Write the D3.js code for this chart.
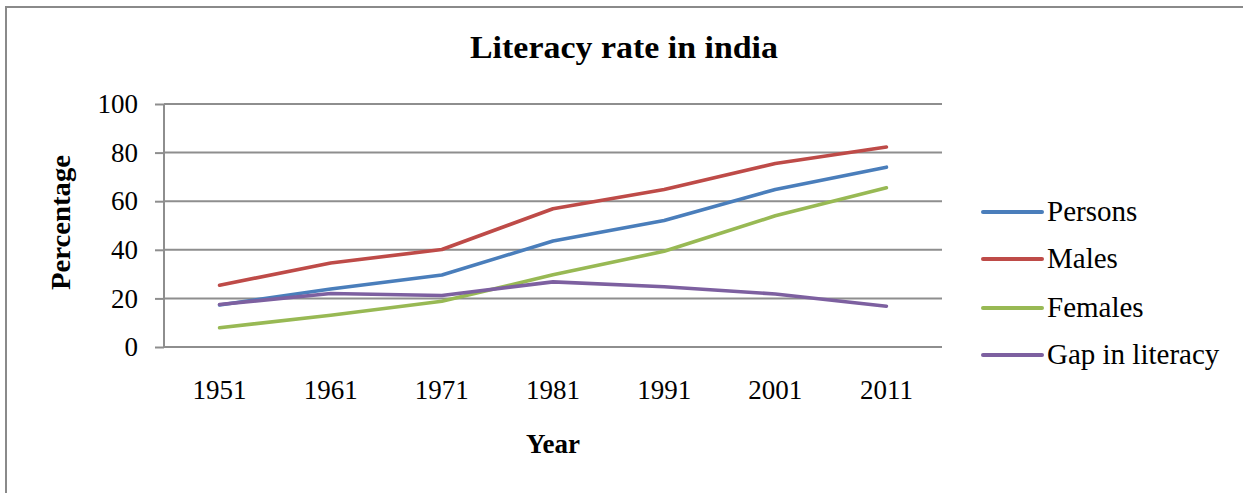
<!DOCTYPE html>
<html>
<head>
<meta charset="utf-8">
<script src="https://cdn.jsdelivr.net/npm/d3@7"></script>
<style>
  html, body { margin: 0; padding: 0; background: #fff; overflow: hidden; }
  svg { display: block; }
</style>
</head>
<body>
<div id="chart"></div>
<script>
// Literacy rate in india — Excel-style line chart, four series over census years.

const years = ['1951', '1961', '1971', '1981', '1991', '2001', '2011'];
const persons = [17.3, 23.9, 29.6, 43.6, 52.1, 64.8, 74.0];
const males   = [25.4, 34.6, 40.1, 56.9, 64.8, 75.5, 82.3];
const females = [7.9, 13.1, 18.8, 29.7, 39.4, 54.0, 65.5];
const gap     = [17.5, 22.0, 21.2, 26.8, 24.8, 21.8, 16.8];
const yTicks  = [0, 20, 40, 60, 80, 100];

const seriesNames = ['Persons', 'Males', 'Females', 'Gap in literacy'];
const seriesValues = [persons, males, females, gap];

const COLORS = {
  Persons: '#4a7ebb',
  Males: '#be4b48',
  Females: '#98b954',
  'Gap in literacy': '#7d60a0',
  grid: '#8e8e8e',
  border: '#8a8a8a',
  ink: '#000'
};
const FONT = '"Liberation Serif", "Times New Roman", serif';

const W = 1243, H = 493;
const plot = { left: 164, right: 942, top: 104, bottom: 347 };

const svg = d3.select('#chart').append('svg')
  .attr('width', W).attr('height', H);

// outer chart border (runs off the right/bottom edge like the screenshot)
svg.append('rect')
  .attr('x', 6).attr('y', 7)
  .attr('width', 1400).attr('height', 700)
  .attr('fill', 'none')
  .attr('stroke', COLORS.border)
  .attr('stroke-width', 2);

const x = d3.scalePoint().domain(years).range([plot.left, plot.right]).padding(0.5);
const y = d3.scaleLinear().domain([0, 100]).range([plot.bottom, plot.top]);

// left ticks
const yAxis = svg.append('g')
  .attr('transform', `translate(${plot.left},0)`)
  .call(d3.axisLeft(y).tickValues(yTicks).tickSize(9).tickFormat(''));
yAxis.select('.domain').remove();
yAxis.selectAll('.tick line').attr('stroke', COLORS.grid).attr('stroke-width', 2);

// gridlines
svg.append('g')
  .selectAll('line')
  .data(yTicks)
  .join('line')
  .attr('x1', plot.left).attr('x2', plot.right)
  .attr('y1', d => y(d)).attr('y2', d => y(d))
  .attr('stroke', COLORS.grid)
  .attr('stroke-width', 2);

// vertical axis line
svg.append('line')
  .attr('x1', plot.left).attr('x2', plot.left)
  .attr('y1', plot.top).attr('y2', plot.bottom)
  .attr('stroke', COLORS.grid)
  .attr('stroke-width', 2);

// y tick labels
svg.append('g')
  .selectAll('text')
  .data(yTicks)
  .join('text')
  .attr('x', 138)
  .attr('y', d => y(d))
  .attr('dy', '0.34em')
  .attr('text-anchor', 'end')
  .attr('font-family', FONT)
  .attr('font-size', 27)
  .attr('fill', COLORS.ink)
  .text(d => d);

// x tick labels
svg.append('g')
  .selectAll('text')
  .data(years)
  .join('text')
  .attr('x', d => x(d))
  .attr('y', 399)
  .attr('text-anchor', 'middle')
  .attr('font-family', FONT)
  .attr('font-size', 27)
  .attr('fill', COLORS.ink)
  .text(d => d);

// series lines
const line = d3.line()
  .x((d, i) => x(years[i]))
  .y(d => y(d));

svg.append('g')
  .selectAll('path')
  .data(seriesValues)
  .join('path')
  .attr('d', d => line(d))
  .attr('fill', 'none')
  .attr('stroke', (d, i) => COLORS[seriesNames[i]])
  .attr('stroke-width', 3.6)
  .attr('stroke-linecap', 'round')
  .attr('stroke-linejoin', 'round');

// title
svg.append('text')
  .attr('x', 470).attr('y', 58)
  .attr('font-family', FONT)
  .attr('font-weight', 'bold')
  .attr('font-size', 31)
  .attr('textLength', 308)
  .attr('lengthAdjust', 'spacingAndGlyphs')
  .attr('fill', COLORS.ink)
  .text('Literacy rate in india');

// axis titles
svg.append('text')
  .attr('x', x('1981')).attr('y', 453)
  .attr('text-anchor', 'middle')
  .attr('font-family', FONT)
  .attr('font-weight', 'bold')
  .attr('font-size', 27)
  .attr('fill', COLORS.ink)
  .text('Year');

svg.append('text')
  .attr('transform', 'translate(70,290) rotate(-90)')
  .attr('font-family', FONT)
  .attr('font-weight', 'bold')
  .attr('font-size', 28)
  .attr('textLength', 135)
  .attr('lengthAdjust', 'spacingAndGlyphs')
  .attr('fill', COLORS.ink)
  .text('Percentage');

// legend
const legendY = [212, 259, 308, 355];
const legend = svg.append('g')
  .selectAll('g')
  .data(seriesNames)
  .join('g')
  .attr('transform', (d, i) => `translate(983,${legendY[i]})`);

legend.append('line')
  .attr('x1', 0).attr('x2', 59)
  .attr('stroke', d => COLORS[d])
  .attr('stroke-width', 4)
  .attr('stroke-linecap', 'round');

legend.append('text')
  .attr('x', 64)
  .attr('dy', '0.32em')
  .attr('font-family', FONT)
  .attr('font-size', 29)
  .attr('fill', COLORS.ink)
  .text(d => d);
</script>
</body>
</html>
